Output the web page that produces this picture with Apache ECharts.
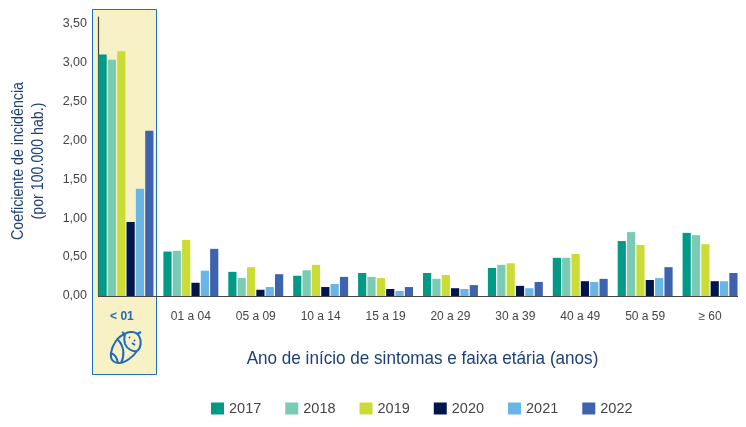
<!DOCTYPE html>
<html><head><meta charset="utf-8">
<style>html,body{margin:0;padding:0;background:#fff}#c{width:746px;height:427px}</style>
<script src="https://cdn.jsdelivr.net/npm/echarts@6/dist/echarts.min.js"></script>
</head><body><div id="c"></div>
<script>
const categories=['< 01','01 a 04','05 a 09','10 a 14','15 a 19','20 a 29','30 a 39','40 a 49','50 a 59','≥ 60'];
const tickLabels=['0,00','0,50','1,00','1,50','2,00','2,50','3,00','3,50'];
const v2017=[3.10,0.57,0.31,0.26,0.295,0.295,0.36,0.49,0.705,0.81];
const v2018=[3.03,0.58,0.23,0.33,0.245,0.22,0.40,0.49,0.82,0.78];
const v2019=[3.14,0.72,0.37,0.40,0.23,0.27,0.42,0.54,0.655,0.665];
const v2020=[0.95,0.17,0.08,0.115,0.09,0.10,0.13,0.19,0.205,0.19];
const v2021=[1.375,0.325,0.115,0.155,0.065,0.09,0.10,0.18,0.23,0.19];
const v2022=[2.12,0.605,0.28,0.245,0.115,0.14,0.18,0.22,0.37,0.295];
const seriesNames=['2017','2018','2019','2020','2021','2022'];
const seriesValues=[v2017,v2018,v2019,v2020,v2021,v2022];
const xTitle='Ano de início de sintomas e faixa etária (anos)';
const yTitle='Coeficiente de incidência\n(por 100.000 hab.)';
const colors=['#009a87','#79cbb4','#cbdc37','#00164d','#69b6e6','#3d63ae'];
const navy='#1d4176', grey='#454545';
const font='"Liberation Sans"';
const babyPath='M15 3 C18 0 26 0 29 5 C32 10 31 17 27 20 C23 21 17 18 15 13 C14 9 14 6 15 3 Z M15 3 C8 5 2 14 1 22 C0 28 3 32 9 32 C15 32 23 26 27 20 M8 9 C14 15 15 24 11 32 M1 22 C4 23 7 27 8 32 M15 3 L12 1 M27 3 L31 1 M19 6 L20 7 M24 9 L25 10 M22 12 L25 14';
echarts.graphic.registerShape('babyIcon',echarts.graphic.extendPath(babyPath,{}));
const chart=echarts.init(document.getElementById('c'),null,{renderer:'canvas'});
const G={left:93.5,width:649,top:17,bottom:296};
chart.setOption({
 animation:false,
 textStyle:{fontFamily:font},
 grid:{left:G.left,width:G.width,top:G.top,height:G.bottom-G.top,containLabel:false},
 legend:{left:206,top:396,itemWidth:13,itemHeight:12,itemGap:24,icon:'rect',
  textStyle:{fontFamily:font,fontSize:14.5,color:grey},data:seriesNames},
 xAxis:{type:'category',data:categories,
  axisLine:{show:false},axisTick:{show:false},
  axisLabel:{margin:15,fontSize:12,color:grey,fontFamily:font,interval:0,
   formatter:(v)=>v===categories[0]?'{a|'+v+'}':v,
   rich:{a:{fontSize:12,fontWeight:'bold',color:'#1f6bb8',fontFamily:font,padding:[0,8,0,0]}}}},
 yAxis:{type:'value',min:0,max:3.58,interval:0.5,offset:-4.5,
  axisLine:{show:true,lineStyle:{color:grey,width:1.2}},axisTick:{show:false},splitLine:{show:false},
  axisLabel:{margin:11,fontSize:12.5,color:grey,fontFamily:font,showMaxLabel:false,padding:[2,0,0,0],
   formatter:(v)=>tickLabels[Math.round(v/0.5)]||''}},
 series:seriesNames.map((n,i)=>({name:n,type:'bar',data:seriesValues[i],barWidth:8.2,barGap:'14%',
   itemStyle:{color:colors[i]},zlevel:1})),
 graphic:[
  {type:'rect',z:-10,zlevel:0,shape:{x:92.5,y:9.5,width:64,height:365},
   style:{fill:'#f9f1c6',stroke:'#1a71b8',lineWidth:1}},
  {type:'line',z:100,zlevel:2,shape:{x1:98,y1:296.5,x2:738,y2:296.5},style:{stroke:grey,lineWidth:1.2}},
  {type:'babyIcon',x:110,y:331,zlevel:2,shape:{},style:{fill:'none',stroke:'#1f6bb8',lineWidth:2}},
  {type:'text',x:422.5,y:359,scaleX:0.9,zlevel:2,style:{text:xTitle,fill:navy,font:'19px "Liberation Sans"',textAlign:'center',textVerticalAlign:'middle'}},
  {type:'text',x:28.5,y:161,rotation:Math.PI/2,scaleX:0.888,zlevel:2,style:{text:yTitle,fill:navy,font:'16px "Liberation Sans"',lineHeight:20,textAlign:'center',textVerticalAlign:'middle'}}
 ]
});
</script></body></html>
